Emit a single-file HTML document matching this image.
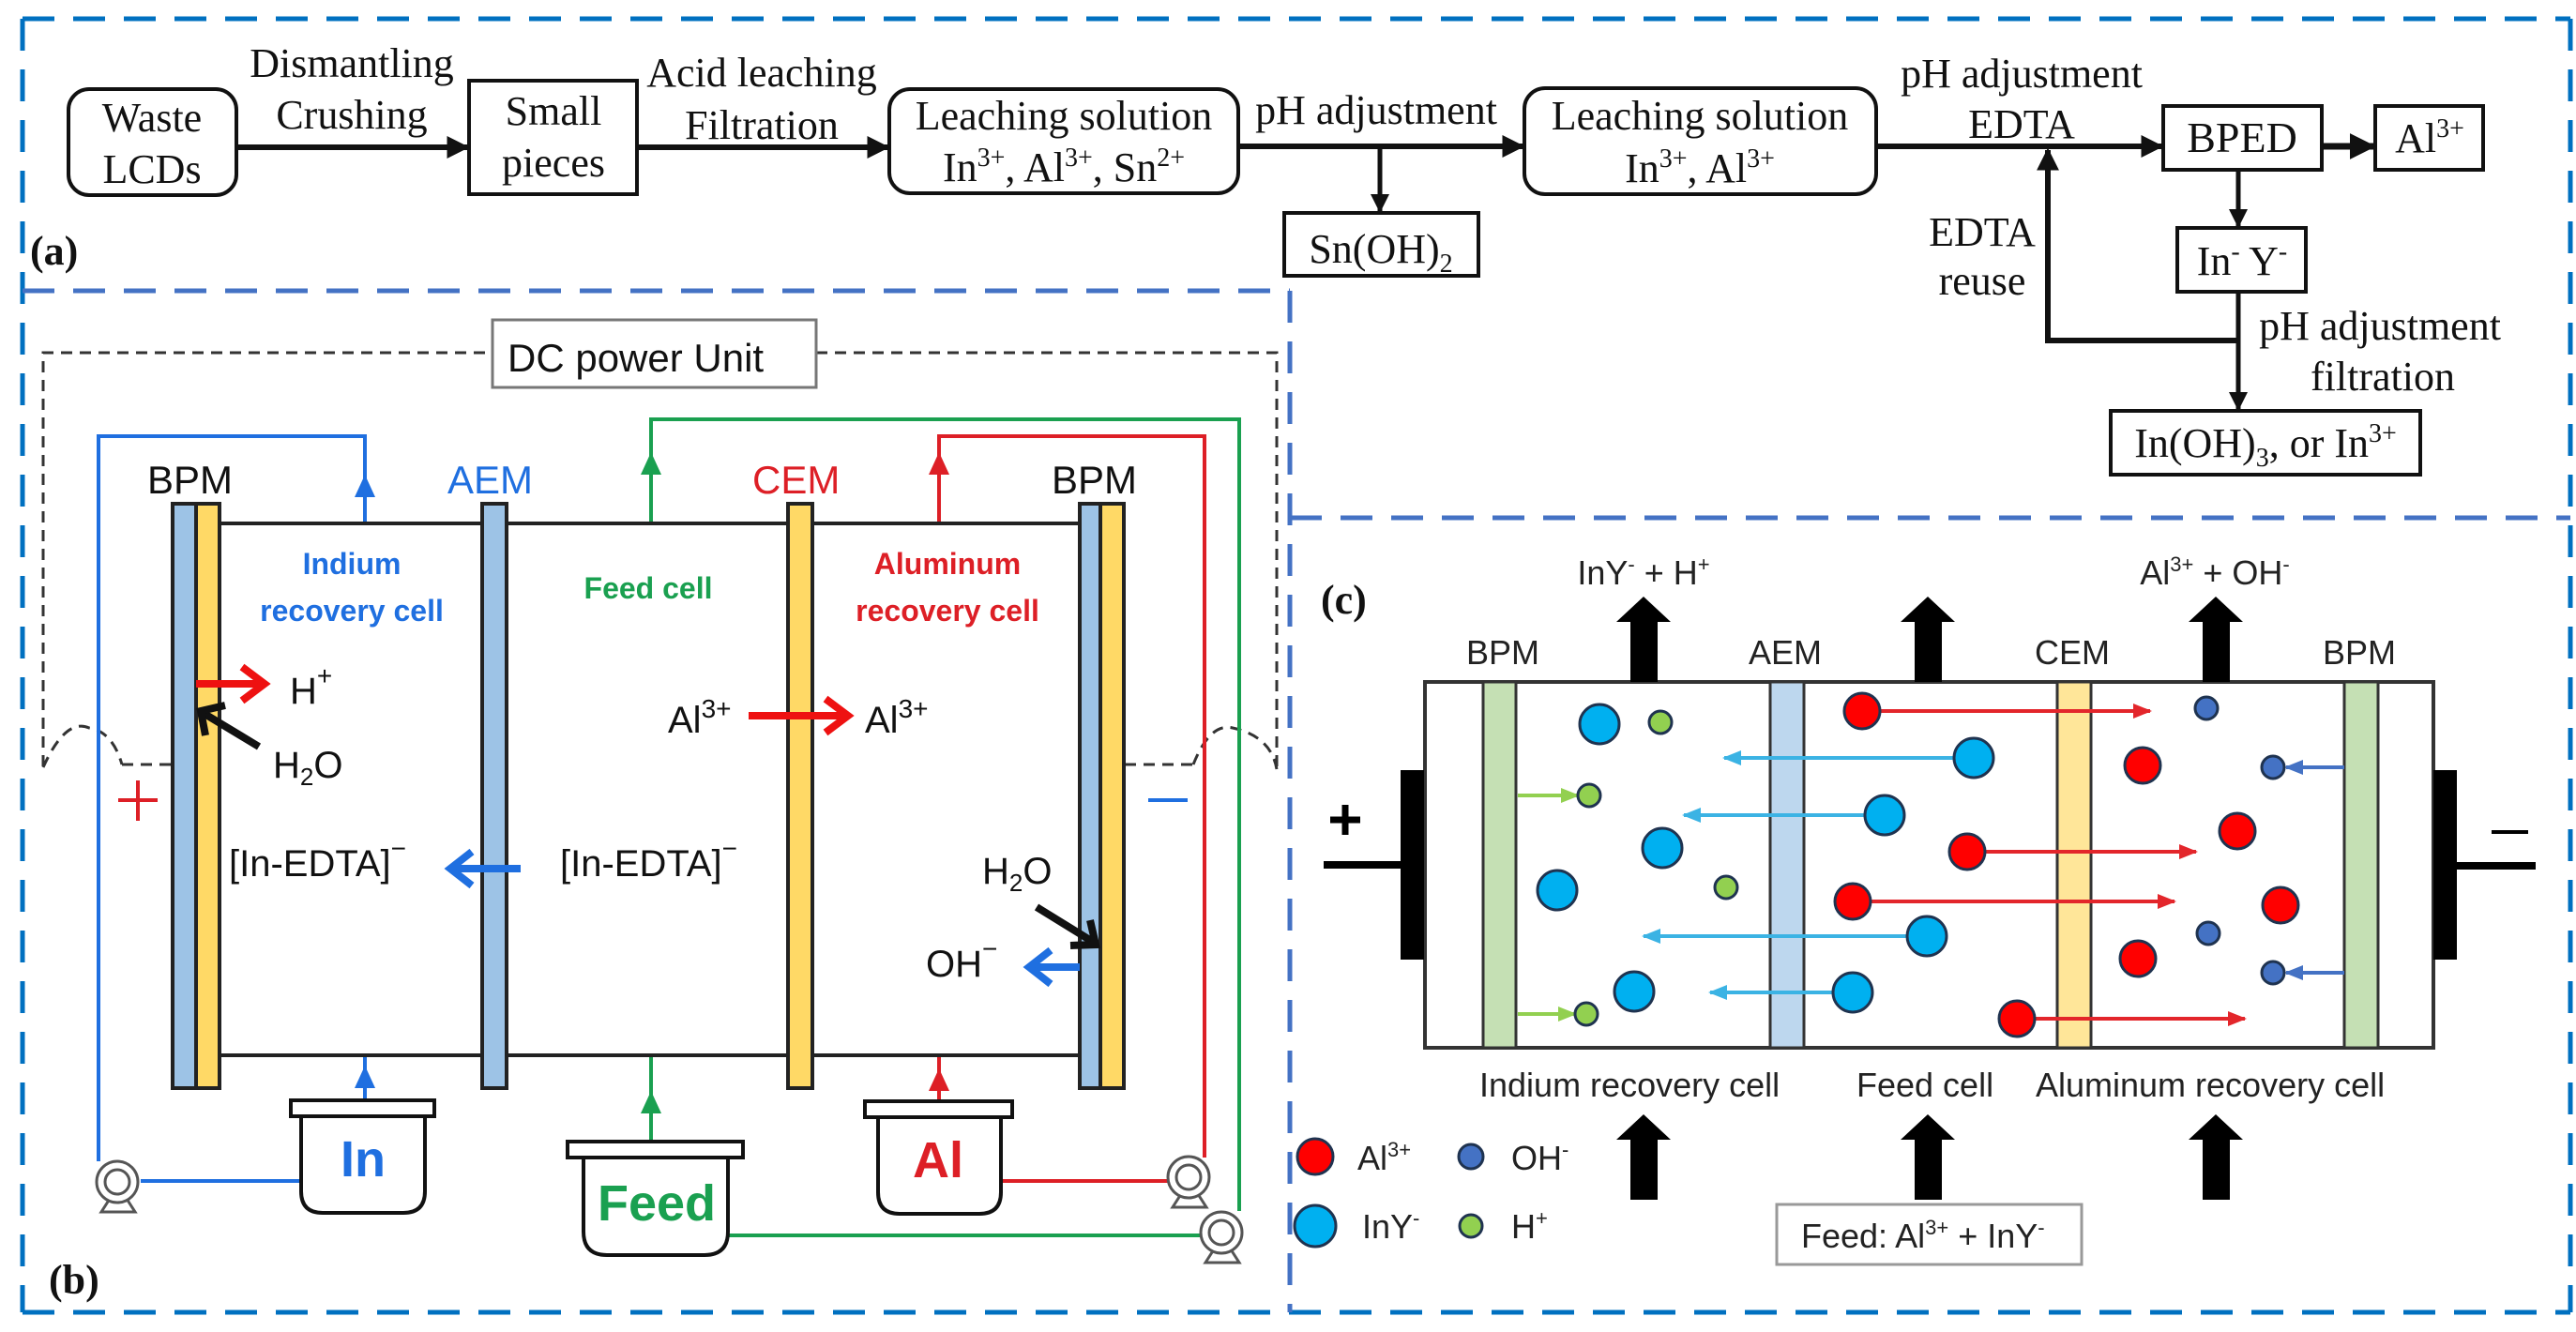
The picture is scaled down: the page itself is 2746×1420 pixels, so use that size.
<!DOCTYPE html>
<html><head><meta charset="utf-8"><style>
html,body{margin:0;padding:0;background:#fff}
svg{display:block}
.t{font-family:"Liberation Serif",serif;font-size:44px;fill:#111}
.a{font-family:"Liberation Sans",sans-serif}
</style></head><body>
<svg width="2746" height="1420" viewBox="0 0 2746 1420" xmlns="http://www.w3.org/2000/svg">
<defs>
<marker id="ah" viewBox="0 0 10 10" refX="9" refY="5" markerWidth="4" markerHeight="4" orient="auto" markerUnits="strokeWidth"><path d="M0,0L10,5L0,10z" fill="#111"/></marker>
<marker id="mc" viewBox="0 0 10 10" refX="9" refY="5" markerWidth="5" markerHeight="5" orient="auto" markerUnits="strokeWidth"><path d="M0,1L10,5L0,9z" fill="#3bb3e4"/></marker>
<marker id="mr" viewBox="0 0 10 10" refX="9" refY="5" markerWidth="5" markerHeight="5" orient="auto" markerUnits="strokeWidth"><path d="M0,1L10,5L0,9z" fill="#e3262b"/></marker>
<marker id="mg" viewBox="0 0 10 10" refX="9" refY="5" markerWidth="5" markerHeight="5" orient="auto" markerUnits="strokeWidth"><path d="M0,1L10,5L0,9z" fill="#92d050"/></marker>
<marker id="mb" viewBox="0 0 10 10" refX="9" refY="5" markerWidth="5" markerHeight="5" orient="auto" markerUnits="strokeWidth"><path d="M0,1L10,5L0,9z" fill="#4472c4"/></marker>
</defs>

<!-- panel borders -->
<g fill="none" stroke-width="5" stroke-dasharray="34,20">
<line x1="24" y1="20" x2="2740" y2="20" stroke="#0070c0"/>
<line x1="24" y1="20" x2="24" y2="1399" stroke="#0070c0"/>
<line x1="2740" y1="20" x2="2740" y2="1399" stroke="#0070c0"/>
<line x1="24" y1="1399" x2="2740" y2="1399" stroke="#0070c0"/>
<line x1="24" y1="310" x2="1375" y2="310" stroke="#4472c4"/>
<line x1="1375" y1="310" x2="1375" y2="1399" stroke="#4472c4"/>
<line x1="1375" y1="552" x2="2740" y2="552" stroke="#4472c4"/>
</g>

<!-- ===== (a) ===== -->
<g stroke="#111" fill="none" stroke-width="4">
<rect x="73" y="95" width="179" height="113" rx="22"/>
<rect x="500" y="86" width="179" height="121"/>
<rect x="948" y="95" width="372" height="111" rx="22"/>
<rect x="1369" y="227" width="207" height="67"/>
<rect x="1625" y="94" width="375" height="113" rx="22"/>
<rect x="2306" y="113" width="169" height="68"/>
<rect x="2532" y="113" width="115" height="68"/>
<rect x="2321" y="243" width="137" height="68"/>
<rect x="2250" y="438" width="330" height="68"/>
</g>
<g stroke="#111" stroke-width="6" fill="none">
<line x1="252" y1="157" x2="498" y2="157" marker-end="url(#ah)"/>
<line x1="679" y1="157" x2="946" y2="157" marker-end="url(#ah)"/>
<line x1="1320" y1="156" x2="1623" y2="156" marker-end="url(#ah)"/>
<line x1="1471" y1="156" x2="1471" y2="225" marker-end="url(#ah)" stroke-width="5"/>
<line x1="2000" y1="156" x2="2304" y2="156" marker-end="url(#ah)"/>
<line x1="2475" y1="156" x2="2530" y2="156" marker-end="url(#ah)" stroke-width="7"/>
<line x1="2386" y1="181" x2="2386" y2="241" marker-end="url(#ah)" stroke-width="5"/>
<line x1="2386" y1="311" x2="2386" y2="436" marker-end="url(#ah)" stroke-width="5"/>
<polyline points="2386,363 2183,363 2183,160" marker-end="url(#ah)" stroke-width="6"/>
</g>
<g class="t" text-anchor="middle">
<text x="162" y="140">Waste</text><text x="162" y="195">LCDs</text>
<text x="375" y="82">Dismantling</text><text x="375" y="137">Crushing</text>
<text x="590" y="133">Small</text><text x="590" y="188">pieces</text>
<text x="812" y="92">Acid leaching</text><text x="812" y="148">Filtration</text>
<text x="1134" y="138">Leaching solution</text>
<text x="1134" y="193">In<tspan dy="-16" font-size="28">3+</tspan><tspan dy="16">, Al</tspan><tspan dy="-16" font-size="28">3+</tspan><tspan dy="16">, Sn</tspan><tspan dy="-16" font-size="28">2+</tspan></text>
<text x="1467" y="132">pH adjustment</text>
<text x="1472" y="280">Sn(OH)<tspan dy="10" font-size="28">2</tspan></text>
<text x="1812" y="138">Leaching solution</text>
<text x="1812" y="194">In<tspan dy="-16" font-size="28">3+</tspan><tspan dy="16">, Al</tspan><tspan dy="-16" font-size="28">3+</tspan></text>
<text x="2155" y="93">pH adjustment</text><text x="2155" y="147">EDTA</text>
<text x="2390" y="162" font-size="46">BPED</text>
<text x="2590" y="162">Al<tspan dy="-16" font-size="28">3+</tspan></text>
<text x="2390" y="293">In<tspan dy="-16" font-size="28">-</tspan><tspan dy="16"> Y</tspan><tspan dy="-16" font-size="28">-</tspan></text>
<text x="2113" y="262">EDTA</text><text x="2113" y="314">reuse</text>
<text x="2537" y="362">pH adjustment</text><text x="2540" y="416">filtration</text>
<text x="2415" y="487">In(OH)<tspan dy="10" font-size="28">3</tspan><tspan dy="-10">, or In</tspan><tspan dy="-16" font-size="28">3+</tspan></text>
</g>
<text class="t" x="32" y="282" font-size="66" font-weight="bold">(a)</text>

<!-- ===== (b) ===== -->
<g fill="none" stroke="#333" stroke-width="3" stroke-dasharray="12,8">
<polyline points="46,817 46,376 525,376"/>
<polyline points="870,376 1361,376 1361,817"/>
<path d="M46,818 Q70,765 95,776 Q120,780 130,815"/>
<line x1="130" y1="815" x2="183" y2="815"/>
<line x1="1199" y1="815" x2="1272" y2="815"/>
<path d="M1272,815 Q1290,770 1314,776 Q1355,785 1361,820"/>
</g>
<rect x="525" y="341" width="345" height="72" fill="#fff" stroke="#777" stroke-width="3"/>
<text class="a" x="541" y="396" font-size="42" fill="#111">DC power Unit</text>

<!-- loops -->
<g fill="none" stroke-width="4">
<polyline points="105,1238 105,465 389,465 389,558" stroke="#1f6fe0"/>
<line x1="150" y1="1259" x2="321" y2="1259" stroke="#1f6fe0"/>
<line x1="389" y1="1173" x2="389" y2="1125" stroke="#1f6fe0"/>
<polyline points="694,558 694,447 1321,447 1321,1291" stroke="#1aa050"/>
<line x1="694" y1="1217" x2="694" y2="1125" stroke="#1aa050"/>
<line x1="776" y1="1317" x2="1280" y2="1317" stroke="#1aa050"/>
<polyline points="1001,558 1001,465 1284,465 1284,1234" stroke="#dd1f26"/>
<line x1="1001" y1="1174" x2="1001" y2="1126" stroke="#dd1f26"/>
<line x1="1067" y1="1259" x2="1245" y2="1259" stroke="#dd1f26"/>
</g>
<path d="M378,530 L389,506 L400,530z" fill="#1f6fe0"/>
<path d="M378,1160 L389,1136 L400,1160z" fill="#1f6fe0"/>
<path d="M683,506 L694,482 L705,506z" fill="#1aa050"/>
<path d="M683,1187 L694,1163 L705,1187z" fill="#1aa050"/>
<path d="M990,506 L1001,482 L1012,506z" fill="#dd1f26"/>
<path d="M990,1163 L1001,1139 L1012,1163z" fill="#dd1f26"/>

<!-- cell -->
<g stroke="#222" stroke-width="4">
<line x1="234" y1="558" x2="1151" y2="558"/>
<line x1="234" y1="1125" x2="1151" y2="1125"/>
<rect x="184" y="537" width="25" height="623" fill="#9dc3e6"/>
<rect x="209" y="537" width="25" height="623" fill="#ffd966"/>
<rect x="514" y="537" width="26" height="623" fill="#9dc3e6"/>
<rect x="840" y="537" width="26" height="623" fill="#ffd966"/>
<rect x="1151" y="537" width="22" height="623" fill="#9dc3e6"/>
<rect x="1173" y="537" width="25" height="623" fill="#ffd966"/>
</g>
<g class="a" font-size="42">
<text x="157" y="526" fill="#111">BPM</text>
<text x="477" y="526" fill="#1f6fe0">AEM</text>
<text x="802" y="526" fill="#dd1f26">CEM</text>
<text x="1121" y="526" fill="#111">BPM</text>
</g>
<g class="a" font-size="32" font-weight="bold" text-anchor="middle">
<text x="375" y="612" fill="#1f6fe0">Indium</text><text x="375" y="662" fill="#1f6fe0">recovery cell</text>
<text x="691" y="638" fill="#1aa050">Feed cell</text>
<text x="1010" y="612" fill="#dd1f26">Aluminum</text><text x="1010" y="662" fill="#dd1f26">recovery cell</text>
</g>
<!-- ion arrows -->
<g fill="none" stroke-width="8">
<line x1="209" y1="729" x2="276" y2="729" stroke="#ee1111"/>
<polyline points="258,711 282,729 258,747" stroke="#ee1111"/>
<line x1="798" y1="763" x2="898" y2="763" stroke="#ee1111"/>
<polyline points="880,745 904,763 880,781" stroke="#ee1111"/>
<line x1="555" y1="926" x2="485" y2="926" stroke="#1f6fe0"/>
<polyline points="503,908 480,926 503,944" stroke="#1f6fe0"/>
<line x1="1151" y1="1031" x2="1102" y2="1031" stroke="#1f6fe0"/>
<polyline points="1120,1013 1097,1031 1120,1049" stroke="#1f6fe0"/>
<line x1="276" y1="796" x2="218" y2="761" stroke="#111"/>
<polyline points="219,784 214,758 240,752" stroke="#111"/>
<line x1="1105" y1="967" x2="1165" y2="1004" stroke="#111"/>
<polyline points="1141,1008 1168,1007 1162,981" stroke="#111"/>
</g>
<g class="a" font-size="40" fill="#111">
<text x="309" y="750">H<tspan dy="-20" font-size="28">+</tspan></text>
<text x="291" y="829">H<tspan dy="8" font-size="26">2</tspan><tspan dy="-8">O</tspan></text>
<text x="712" y="781">Al<tspan dy="-16" font-size="28">3+</tspan></text>
<text x="922" y="781">Al<tspan dy="-16" font-size="28">3+</tspan></text>
<text x="244" y="934">[In-EDTA]<tspan dy="-20" font-size="28">−</tspan></text>
<text x="597" y="934">[In-EDTA]<tspan dy="-20" font-size="28">−</tspan></text>
<text x="1047" y="942">H<tspan dy="8" font-size="26">2</tspan><tspan dy="-8">O</tspan></text>
<text x="987" y="1041">OH<tspan dy="-20" font-size="28">−</tspan></text>
</g>
<g stroke="#dd1f26" stroke-width="4"><line x1="126" y1="853" x2="168" y2="853"/><line x1="147" y1="832" x2="147" y2="875"/></g>
<line x1="1224" y1="853" x2="1266" y2="853" stroke="#1f6fe0" stroke-width="4"/>

<!-- tanks -->
<g fill="#fff" stroke="#111" stroke-width="4">
<path d="M321,1190 L321,1270 Q321,1293 344,1293 L430,1293 Q453,1293 453,1270 L453,1190"/>
<rect x="310" y="1173" width="153" height="17"/>
<path d="M622,1234 L622,1313 Q622,1338 647,1338 L751,1338 Q776,1338 776,1313 L776,1234"/>
<rect x="605" y="1217" width="187" height="17"/>
<path d="M936,1191 L936,1271 Q936,1294 959,1294 L1044,1294 Q1067,1294 1067,1271 L1067,1191"/>
<rect x="922" y="1174" width="157" height="17"/>
</g>
<g class="a" font-weight="bold" text-anchor="middle" font-size="54">
<text x="387" y="1254" fill="#1f6fe0">In</text>
<text x="700" y="1301" fill="#1aa050">Feed</text>
<text x="1000" y="1255" fill="#dd1f26">Al</text>
</g>
<!-- pumps -->
<g fill="#fff" stroke="#555" stroke-width="3">
<path d="M108,1292 L117,1278 L135,1278 L144,1292z"/><circle cx="125" cy="1260" r="22"/><circle cx="125" cy="1260" r="13"/>
<path d="M1250,1287 L1259,1273 L1277,1273 L1286,1287z"/><circle cx="1267" cy="1255" r="22"/><circle cx="1267" cy="1255" r="13"/>
<path d="M1285,1346 L1294,1332 L1312,1332 L1321,1346z"/><circle cx="1302" cy="1314" r="22"/><circle cx="1302" cy="1314" r="13"/>
</g>
<text class="t" x="52" y="1379" font-size="66" font-weight="bold">(b)</text>

<!-- ===== (c) ===== -->
<text class="t" x="1408" y="654" font-size="66" font-weight="bold">(c)</text>
<rect x="1519" y="727" width="1075" height="390" fill="#fff" stroke="#333" stroke-width="4"/>
<g stroke="#333" stroke-width="3">
<rect x="1581" y="727" width="35" height="390" fill="#c5e0b4"/>
<rect x="1887" y="727" width="36" height="390" fill="#bdd7ee"/>
<rect x="2193" y="727" width="36" height="390" fill="#ffe699"/>
<rect x="2499" y="727" width="36" height="390" fill="#c5e0b4"/>
</g>
<rect x="1493" y="821" width="25" height="202" fill="#000"/>
<rect x="2594" y="821" width="25" height="202" fill="#000"/>
<line x1="1411" y1="922" x2="1493" y2="922" stroke="#000" stroke-width="8"/>
<line x1="2619" y1="923" x2="2703" y2="923" stroke="#000" stroke-width="8"/>
<g stroke="#000" stroke-width="7"><line x1="1418" y1="874" x2="1450" y2="874"/><line x1="1434" y1="858" x2="1434" y2="890"/></g>
<line x1="2656" y1="887" x2="2695" y2="887" stroke="#000" stroke-width="4"/>
<g class="a" font-size="36" fill="#222" text-anchor="middle">
<text x="1602" y="708">BPM</text><text x="1903" y="708">AEM</text><text x="2209" y="708">CEM</text><text x="2515" y="708">BPM</text>
<text x="1752" y="623">InY<tspan dy="-14" font-size="22">-</tspan><tspan dy="14"> + H</tspan><tspan dy="-14" font-size="22">+</tspan></text>
<text x="2361" y="623">Al<tspan dy="-14" font-size="22">3+</tspan><tspan dy="14"> + OH</tspan><tspan dy="-14" font-size="22">-</tspan></text>
</g>
<g class="a" font-size="36" fill="#222">
<text x="1577" y="1169">Indium recovery cell</text>
<text x="1979" y="1169">Feed cell</text>
<text x="2170" y="1169">Aluminum recovery cell</text>
</g>
<!-- big arrows -->
<g fill="#000">
<path d="M1738,727 L1738,663 L1723,663 L1752,636 L1781,663 L1767,663 L1767,727z"/>
<path d="M2041,727 L2041,663 L2026,663 L2055,636 L2084,663 L2070,663 L2070,727z"/>
<path d="M2348,727 L2348,663 L2333,663 L2362,636 L2391,663 L2377,663 L2377,727z"/>
<path d="M1738,1279 L1738,1215 L1723,1215 L1752,1188 L1781,1215 L1767,1215 L1767,1279z"/>
<path d="M2041,1279 L2041,1215 L2026,1215 L2055,1188 L2084,1215 L2070,1215 L2070,1279z"/>
<path d="M2348,1279 L2348,1215 L2333,1215 L2362,1188 L2391,1215 L2377,1215 L2377,1279z"/>
</g>
<rect x="1894" y="1284" width="325" height="64" fill="#fff" stroke="#999" stroke-width="3"/>
<text class="a" x="1920" y="1330" font-size="36" fill="#222">Feed: Al<tspan dy="-14" font-size="22">3+</tspan><tspan dy="14"> + InY</tspan><tspan dy="-14" font-size="22">-</tspan></text>

<!-- particle arrows -->
<g fill="none" stroke-width="4">
<line x1="2104" y1="808" x2="1838" y2="808" stroke="#3bb3e4" marker-end="url(#mc)"/>
<line x1="2009" y1="869" x2="1795" y2="869" stroke="#3bb3e4" marker-end="url(#mc)"/>
<line x1="2054" y1="998" x2="1752" y2="998" stroke="#3bb3e4" marker-end="url(#mc)"/>
<line x1="1975" y1="1058" x2="1823" y2="1058" stroke="#3bb3e4" marker-end="url(#mc)"/>
<line x1="1985" y1="758" x2="2292" y2="758" stroke="#e3262b" marker-end="url(#mr)"/>
<line x1="2097" y1="908" x2="2341" y2="908" stroke="#e3262b" marker-end="url(#mr)"/>
<line x1="1975" y1="961" x2="2318" y2="961" stroke="#e3262b" marker-end="url(#mr)"/>
<line x1="2150" y1="1086" x2="2393" y2="1086" stroke="#e3262b" marker-end="url(#mr)"/>
<line x1="1618" y1="848" x2="1682" y2="848" stroke="#92d050" marker-end="url(#mg)"/>
<line x1="1618" y1="1081" x2="1679" y2="1081" stroke="#92d050" marker-end="url(#mg)"/>
<line x1="2499" y1="818" x2="2437" y2="818" stroke="#4472c4" marker-end="url(#mb)"/>
<line x1="2499" y1="1037" x2="2437" y2="1037" stroke="#4472c4" marker-end="url(#mb)"/>
</g>
<g stroke="#1f3350" stroke-width="3">
<g fill="#00b0f0">
<circle cx="1705" cy="772" r="21"/><circle cx="1772" cy="904" r="21"/><circle cx="1660" cy="949" r="21"/><circle cx="1742" cy="1057" r="21"/>
<circle cx="2104" cy="808" r="21"/><circle cx="2009" cy="869" r="21"/><circle cx="2054" cy="998" r="21"/><circle cx="1975" cy="1058" r="21"/>
<circle cx="1402" cy="1307" r="22"/>
</g>
<g fill="#92d050">
<circle cx="1770" cy="770" r="12"/><circle cx="1694" cy="848" r="12"/><circle cx="1840" cy="946" r="12"/><circle cx="1691" cy="1081" r="12"/>
<circle cx="1568" cy="1307" r="12"/>
</g>
<g fill="#ff0000">
<circle cx="1985" cy="758" r="19"/><circle cx="2284" cy="816" r="19"/><circle cx="2385" cy="886" r="19"/><circle cx="2097" cy="908" r="19"/>
<circle cx="1975" cy="961" r="19"/><circle cx="2431" cy="965" r="19"/><circle cx="2279" cy="1022" r="19"/><circle cx="2150" cy="1086" r="19"/>
<circle cx="1402" cy="1233" r="19"/>
</g>
<g fill="#4472c4">
<circle cx="2352" cy="755" r="12"/><circle cx="2423" cy="818" r="12"/><circle cx="2354" cy="995" r="12"/><circle cx="2423" cy="1037" r="12"/>
<circle cx="1568" cy="1233" r="13"/>
</g>
</g>
<g class="a" font-size="36" fill="#222">
<text x="1447" y="1247">Al<tspan dy="-14" font-size="22">3+</tspan></text>
<text x="1611" y="1247">OH<tspan dy="-14" font-size="22">-</tspan></text>
<text x="1452" y="1320">InY<tspan dy="-14" font-size="22">-</tspan></text>
<text x="1611" y="1320">H<tspan dy="-14" font-size="22">+</tspan></text>
</g>
</svg>
</body></html>
